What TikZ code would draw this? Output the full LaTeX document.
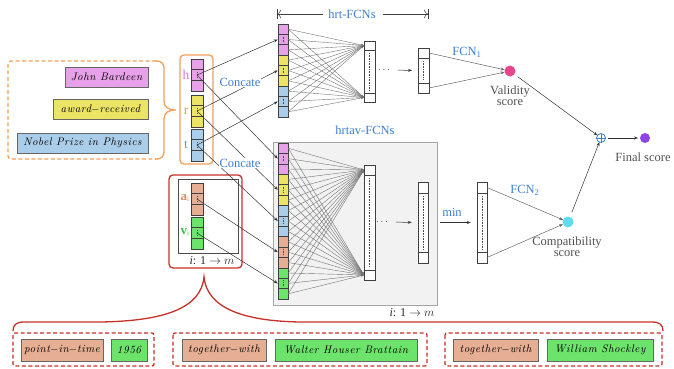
\documentclass[tikz,border=0pt]{standalone}
\usepackage{fontspec}
\setmainfont{Liberation Serif}
\newfontfamily\entfont[LetterSpace=5]{lmroman10-italic.otf}
\usetikzlibrary{arrows.meta,calc}

\definecolor{cpink}{RGB}{232,160,232}
\definecolor{cyellow}{RGB}{236,228,100}
\definecolor{cblue}{RGB}{170,205,234}
\definecolor{csalmon}{RGB}{230,174,146}
\definecolor{cgreen}{RGB}{108,228,108}
\definecolor{corange}{RGB}{240,160,90}
\definecolor{cred}{RGB}{200,48,42}
\definecolor{ctext}{RGB}{62,126,206}
\definecolor{cvalid}{RGB}{232,70,138}
\definecolor{ccompat}{RGB}{94,221,234}
\definecolor{cfinal}{RGB}{140,70,232}
\definecolor{cgreyfill}{RGB}{242,242,242}
\definecolor{cgreyline}{RGB}{165,165,165}
\definecolor{clabel}{RGB}{80,80,80}
\definecolor{lh}{RGB}{215,120,215}
\definecolor{lr}{RGB}{190,180,50}
\definecolor{lt}{RGB}{95,155,212}
\definecolor{la}{RGB}{212,140,110}
\definecolor{lv}{RGB}{60,190,60}

% three-cell embedding vector: name, x centre, y top, fill colour
\newcommand\smallvec[4]{%
  \foreach \k in {1,2,3} {
    \node[vcell, fill=#4] (#1\k) at (#2,{#3+(\k-0.5)*10.7}) {};
  }
  \draw[dotsty] ($(#12)+(0,-3)$) -- ($(#12)+(0,3)$);
}
% layer bar: name, x centre, y top, y bottom, first divider, second divider, width
\newcommand\fcbar[7]{%
  \node[draw=black!75, fill=white, line width=0.5pt, minimum width=#7, minimum height={#4-#3}] (#1) at (#2,{(#3+#4)/2}) {};
  \draw[black!75, line width=0.5pt] ({#2-#7/2},#5) -- ({#2+#7/2},#5);
  \draw[black!75, line width=0.5pt] ({#2-#7/2},#6) -- ({#2+#7/2},#6);
  \draw[dotsty] (#2,{#5+3}) -- (#2,{#6-3});
}

\begin{document}
\begin{tikzpicture}[x=1pt,y=-1pt,
  every node/.style={inner sep=0pt,outer sep=0pt},
  vcell/.style={draw=black!75,line width=0.5pt,minimum width=11.5pt,minimum height=#1},
  vcell/.default=10.7pt,
  dotsty/.style={line width=0.5pt,dash pattern=on 0.5pt off 1.1pt,black!70},
  ent/.style={draw=black!60,line width=0.7pt,minimum height=20pt,font=\entfont\fontsize{11}{12}\selectfont},
  qual/.style={draw=black!60,line width=0.7pt,minimum height=22pt,font=\entfont\fontsize{11}{12}\selectfont},
  lbl/.style={font=\fontsize{12.5}{11}\selectfont,text=clabel,align=center},
  blbl/.style={font=\fontsize{12.5}{11}\selectfont,text=ctext},
  fan/.style={black!55,line width=0.4pt,-{Stealth[length=3pt,width=2.2pt]}},
  arr/.style={black!80,line width=0.5pt,-{Stealth[length=4pt,width=3pt]}},
  fcl/.style={black!60,line width=0.5pt,-{Stealth[length=4pt,width=3pt]}},
]
\useasboundingbox (0,0) rectangle (674,368);

% ---------- triple entities ----------
\draw[corange,line width=1.3pt,dash pattern=on 4pt off 2.5pt,rounded corners=3pt]
  (156,61) -- (8,61) -- (8,159) -- (156,159);
\draw[corange,line width=1.3pt]
  (155,61) .. controls (162,61) and (164,63) .. (164,70) -- (164,101)
  .. controls (164,107) and (168,110) .. (176,110)
  .. controls (168,110) and (164,113) .. (164,119) -- (164,150)
  .. controls (164,157) and (162,159) .. (155,159);
\node[ent,fill=cpink,minimum width=83pt] (e1) at (106.5,77) {John Bardeen};
\node[ent,fill=cyellow,minimum width=95pt] (e2) at (100.5,109) {award$-$received};
\node[ent,fill=cblue,minimum width=131pt] (e3) at (82.5,143) {Nobel Prize in Physics};

% ---------- h, r, t embeddings ----------
\draw[corange,line width=1.3pt,rounded corners=4pt] (180,55) rectangle (213,164);
\smallvec{h}{197}{59}{cpink}
\smallvec{r}{197}{95}{cyellow}
\smallvec{t}{197}{129}{cblue}
\node[font=\fontsize{13.5}{13}\selectfont,text=lh] at (186,75) {h};
\node[font=\fontsize{13.5}{13}\selectfont,text=lr] at (186,111) {r};
\node[font=\fontsize{13.5}{13}\selectfont,text=lt] at (186,145) {t};

% ---------- attribute / value embeddings ----------
\draw[cred,line width=1.3pt,rounded corners=4pt] (169,175) rectangle (242,268);
\draw[black!70,line width=0.6pt] (178,179) rectangle (238,253);
\smallvec{a}{197}{183}{csalmon}
\smallvec{v}{197}{217}{cgreen}
\node[font=\bfseries\fontsize{13}{13}\selectfont,text=la] at (185,198) {a\textsubscript{\normalfont\fontsize{7}{7}\selectfont i}};
\node[font=\bfseries\fontsize{13}{13}\selectfont,text=lv] at (185,232) {v\textsubscript{\normalfont\fontsize{7}{7}\selectfont i}};
\node[font=\fontsize{12}{12}\selectfont,text=black!85] at (212,261) {\textit{i}: 1 $\rightarrow$ $m$};

% ---------- hrtav-FCNs frame ----------
\node[draw=cgreyline,fill=cgreyfill,line width=1pt,minimum width=164pt,minimum height=163pt] (gbox) at (355,223.5) {};
\node[blbl] at (365,130) {hrtav-FCNs};
\node[font=\fontsize{12}{12}\selectfont,text=black!85] at (412,313) {\textit{i}: 1 $\rightarrow$ $m$};

% ---------- concatenated vectors ----------
\coordinate (cu1) at (364,45.5);
\coordinate (cu2) at (364,97.5);
\coordinate (cl1) at (364,170);
\coordinate (cl2) at (364,275);
\foreach \k/\c in {1/cpink,2/cpink,3/cpink,4/cyellow,5/cyellow,6/cyellow,7/cblue,8/cblue,9/cblue} {
  \node[vcell=10.333pt,minimum width=10.5pt,fill=\c] (u\k) at (283,{24+(\k-0.5)*10.333}) {};
}
\foreach \k/\c in {1/cpink,2/cpink,3/cpink,4/cyellow,5/cyellow,6/cyellow,7/cblue,8/cblue,9/cblue,
                   10/csalmon,11/csalmon,12/csalmon,13/cgreen,14/cgreen,15/cgreen} {
  \node[vcell=10.4pt,minimum width=10.5pt,fill=\c] (l\k) at (283,{143+(\k-0.5)*10.4}) {};
}
\foreach \k in {2,5,8} { \draw[dotsty] ($(u\k)+(0,-3)$) -- ($(u\k)+(0,3)$); }
\foreach \k in {2,5,8,11,14} { \draw[dotsty] ($(l\k)+(0,-3)$) -- ($(l\k)+(0,3)$); }

% fully connected fans
\foreach \k in {1,...,9} { \draw[fan] (u\k.east) -- (cu1); \draw[fan] (u\k.east) -- (cu2); }
\foreach \k in {1,...,15} { \draw[fan] (l\k.east) -- (cl1); \draw[fan] (l\k.east) -- (cl2); }

% ---------- layer bars ----------
\fcbar{hu}{369.5}{41}{102}{50}{93}{11}
\fcbar{ou}{423.5}{48}{93}{58}{83}{11}
\fcbar{hl}{369.5}{165}{280}{175}{270}{11}
\fcbar{ol}{423}{182}{263}{193}{252}{10.5}
\fcbar{mb}{482}{182}{263}{193}{252}{10.5}

\node[font=\fontsize{10}{10}\selectfont,text=black!70] (du) at (384,70) {$\cdots$};
\node[font=\fontsize{10}{10}\selectfont,text=black!70] (dl) at (382,222) {$\cdots$};
\draw[arr,shorten <=8pt,shorten >=6pt] (du.east) -- (ou.west);
\draw[arr,shorten <=8pt,shorten >=6pt] (dl.east) -- (ol.west);
\draw[arr,shorten <=3pt,shorten >=6pt] (gbox.east |- mb.west) -- (mb.west);
\node[blbl] at (452,212) {min};

% ---------- concatenation arrows ----------
\draw[arr] (h2.center) -- (u2.west);
\draw[arr] (r2.center) -- (u5.west);
\draw[arr] (t2.center) -- (u8.west);
\draw[arr] (h2.center) -- (l2.west);
\draw[arr] (r2.center) -- (l5.west);
\draw[arr] (t2.center) -- (l8.west);
\draw[arr] (a2.center) -- (l11.west);
\draw[arr] (v2.center) -- (l14.west);
\node[blbl,fill=white,inner sep=1pt] at (240,82) {Concate};
\node[blbl,fill=white,inner sep=1pt] at (240,163) {Concate};

% ---------- hrt-FCNs span ----------
\node[blbl] (hrtl) at (352,14) {hrt-FCNs};
\coordinate (spl) at (277,14);
\coordinate (spr) at (428,14);
\draw[black!75,line width=0.5pt,-{To[length=4pt]}] (hrtl.west) ++(-5,0) -- (spl);
\draw[black!75,line width=0.5pt,-{To[length=4pt]}] (hrtl.east) ++(7,0) -- (spr);
\draw[black!75,line width=0.6pt] (spl) ++(0,-5) -- ++(0,10);
\draw[black!75,line width=0.6pt] (spr) ++(0,-5) -- ++(0,10);

% ---------- scores ----------
\node[circle,fill=cvalid,minimum size=11pt] (vs) at (510,71) {};
\node[circle,fill=ccompat,minimum size=11pt] (cs) at (568,222) {};
\node[circle,fill=cfinal,minimum size=10pt] (fs) at (645,138) {};
\node[circle,draw=ctext,line width=0.8pt,minimum size=9pt] (op) at (601,138) {};
\draw[ctext,line width=0.8pt] (op.north) -- (op.south) (op.west) -- (op.east);

\coordinate (ou1) at (429,53);
\coordinate (ou2) at (429,88);
\coordinate (mb1) at (487,187.5);
\coordinate (mb2) at (487,257.5);
\draw[fcl] (ou1) -- (vs);
\draw[fcl] (ou2) -- (vs);
\draw[fcl] (mb1) -- (cs);
\draw[fcl] (mb2) -- (cs);
\node[blbl] at (467,52) {FCN\textsubscript{1}};
\node[blbl] at (525,190) {FCN\textsubscript{2}};

\draw[arr,shorten <=4pt] (vs) -- (op);
\draw[arr,shorten <=5pt] (cs) -- (op);
\draw[arr,shorten <=7pt,shorten >=7pt] (op.center) -- (fs.center);

\node[lbl] at (510,95.5) {Validity\\score};
\node[lbl] at (567,247) {Compatibility\\score};
\node[lbl] at (643,157) {Final score};

% ---------- qualifier pairs ----------
\draw[cred,line width=1.3pt]
  (13,331) .. controls (13,325) and (16,322) .. (24,322) -- (100,322)
  .. controls (165,321) and (201,308) .. (204,277)
  .. controls (207,308) and (243,321) .. (300,322) -- (652,322)
  .. controls (660,322) and (663,325) .. (663,331);
\begin{scope}[cred,line width=1.3pt,dash pattern=on 4pt off 2.5pt,rounded corners=2pt]
  \draw (13,333) rectangle (154,366);
  \draw (173,333) rectangle (427,366);
  \draw (445,333) rectangle (662,366);
\end{scope}
\node[qual,fill=csalmon,minimum width=82pt] (q1) at (62,350) {point$-$in$-$time};
\node[qual,fill=cgreen,minimum width=36pt] (q2) at (129,350) {1956};
\node[qual,fill=csalmon,minimum width=84pt] (q3) at (224,350) {together$-$with};
\node[qual,fill=cgreen,minimum width=142pt] (q4) at (346,350) {Walter Houser Brattain};
\node[qual,fill=csalmon,minimum width=85pt] (q5) at (495.5,350) {together$-$with};
\node[qual,fill=cgreen,minimum width=106pt] (q6) at (600,350) {William Shockley};
\end{tikzpicture}
\end{document}
